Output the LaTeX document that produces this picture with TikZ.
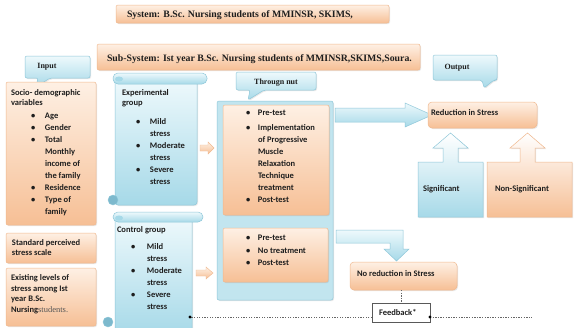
\documentclass[tikz,border=0pt]{standalone}
\usepackage{fontspec}
\setmainfont{Carlito}
\newfontfamily\tnr{Liberation Serif}
\usetikzlibrary{shadows}
\definecolor{txt}{HTML}{1E1E1E}
\definecolor{orL}{HTML}{FEF0E4}
\definecolor{orD}{HTML}{F6BF95}
\definecolor{orB}{HTML}{F0B88E}
\definecolor{blL}{HTML}{EEF9FC}
\definecolor{blD}{HTML}{A6D9E8}
\definecolor{blB}{HTML}{8EC7D9}
\definecolor{blC}{HTML}{7DB9CD}
\definecolor{blM}{HTML}{C2E5EF}
\tikzset{
  shd/.style={drop shadow={opacity=0.18, shadow xshift=1pt, shadow yshift=-1pt}},
  orbox/.style={draw=orB, line width=0.5pt, rounded corners=2pt, top color=orL, bottom color=orD, shd},
  blbox/.style={draw=blB, line width=0.5pt, rounded corners=2pt, top color=blL, bottom color=blD, shd},
  blarrow/.style={draw=blB, line width=0.5pt, top color=blL, bottom color=blD},
  orarrow/.style={draw=orB, line width=0.4pt, top color=orL, bottom color=orD},
  lbl/.style={font=\fontsize{8.5}{12}\selectfont\bfseries, align=left, anchor=base west},
  mlbl/.style={font=\fontsize{8.5}{12}\selectfont\bfseries, align=left, anchor=north west},
  ttl/.style={font=\tnr\bfseries\fontsize{9.8}{12}\selectfont, anchor=base west},
  call/.style={font=\tnr\bfseries\fontsize{8}{10}\selectfont, anchor=base},
  fbline/.style={draw=gray!80!black, line width=0.6pt, dash pattern=on 1.3pt off 1.3pt},
  box/.style={anchor=north west, inner sep=0pt}
}
\begin{document}
\begin{tikzpicture}[x=1pt,y=-1pt, every node/.append style={inner sep=0pt, outer sep=0pt, text=txt}]
\useasboundingbox[fill=white] (0,0) rectangle (577,327);

% titles
\node[orbox, box, minimum width=273pt, minimum height=18pt] (sys) at (116,5) {};
\node[ttl] (systxt) at (127,17.5) {System: B.Sc. Nursing students of MMINSR, SKIMS,};
\node[orbox, box, minimum width=323pt, minimum height=26pt] (sub) at (97,44) {};
\node[ttl] (subtxt) at (107,61) {Sub-System: Ist year B.Sc. Nursing students of MMINSR,SKIMS,Soura.};

% callouts
\path[blarrow, rounded corners=2pt, shd] (25,56) -- (90,56) -- (90,78) -- (50,78) -- (36,87) -- (38,78) -- (25,78) -- cycle;
\node[call] (inlbl) at (47,68.5) {Input};
\path[blarrow, rounded corners=2pt, shd] (433,55) -- (497,55) -- (497,80) -- (494,80) -- (484,88) -- (482,80) -- (433,80) -- cycle;
\node[call] (outlbl) at (457,69) {Output};
\path[blarrow, rounded corners=2pt, shd] (236,72) -- (316,72) -- (316,90) -- (264,90) -- (248,100) -- (250,90) -- (236,90) -- cycle;
\node[call] (thrlbl) at (276,84) {Througn nut};

% left column
\node[orbox, box, minimum width=90pt, minimum height=143pt] (socio) at (6,82) {};
\node[mlbl] (sociotxt) at (11,89.8) {Socio- demographic\\[-2.5pt]variables\\[1.5pt]
\hspace*{20pt}\makebox[14pt][l]{\textbullet}Age\\
\hspace*{20pt}\makebox[14pt][l]{\textbullet}Gender\\
\hspace*{20pt}\makebox[14pt][l]{\textbullet}Total\\
\hspace*{34pt}Monthly\\
\hspace*{34pt}income of\\
\hspace*{34pt}the family\\
\hspace*{20pt}\makebox[14pt][l]{\textbullet}Residence\\
\hspace*{20pt}\makebox[14pt][l]{\textbullet}Type of\\
\hspace*{34pt}family};
\node[orbox, box, minimum width=90pt, minimum height=30pt] (std) at (6,233) {};
\node[mlbl, font=\fontsize{8.5}{10}\selectfont\bfseries] (stdtxt) at (12,239.8) {Standard perceived\\stress scale};
\node[orbox, box, minimum width=90pt, minimum height=58pt] (exist) at (6,268) {};
\node[mlbl, font=\fontsize{8.5}{10.5}\selectfont\bfseries] (existtxt) at (11,274.8) {Existing levels of\\stress among Ist\\year B.Sc.\\Nursing{\tnr\mdseries\color{txt!75}students.}};

% experimental scroll
\path[blbox, rounded corners=3pt] (115,79) rectangle (197,205);
\path[blarrow, rounded corners=5pt] (113,73) rectangle (207,84);
\fill[blD] (119,79) ellipse (4 and 2.5);
\path[draw=blB, fill=blC, line width=0.4pt] (113,200) circle (5);
\node[mlbl] (exptxt) at (122,89.8) {Experimental\\[-2pt]group\\[7pt]
\hspace*{14pt}\makebox[14pt][l]{\textbullet}Mild\\
\hspace*{28pt}stress\\
\hspace*{14pt}\makebox[14pt][l]{\textbullet}Moderate\\
\hspace*{28pt}stress\\
\hspace*{14pt}\makebox[14pt][l]{\textbullet}Severe\\
\hspace*{28pt}stress};

% control scroll
\begin{scope}
\clip (0,0) rectangle (577,327);
\path[blbox, rounded corners=3pt] (115,217) rectangle (192,335);
\path[blarrow, rounded corners=5pt] (113,212) rectangle (203,222);
\fill[blD] (119,218) ellipse (4 and 2.5);
\path[draw=blB, fill=blC, line width=0.4pt] (108,322) circle (5);
\end{scope}
\node[mlbl] (ctltxt) at (117,226.8) {Control group\\[5pt]
\hspace*{14pt}\makebox[16pt][l]{\textbullet}Mild\\
\hspace*{30pt}stress\\
\hspace*{14pt}\makebox[16pt][l]{\textbullet}Moderate\\
\hspace*{30pt}stress\\
\hspace*{14pt}\makebox[16pt][l]{\textbullet}Severe\\
\hspace*{30pt}stress};

% small orange arrows
\path[orarrow] (200,145) -- (208,145) -- (208,142) -- (214,148) -- (208,154) -- (208,151) -- (200,151) -- cycle;
\path[orarrow] (196,270) -- (206,270) -- (206,267) -- (213,273) -- (206,279) -- (206,276) -- (196,276) -- cycle;

% container
\node[draw=blB, fill=blM, line width=0.5pt, rounded corners=2pt, box, minimum width=116pt, minimum height=199pt, shd] (cont) at (217,101) {};
\node[orbox, box, minimum width=106pt, minimum height=110pt] (inner1) at (223,105) {};
\node[mlbl] (in1txt) at (246,110) {\makebox[12pt][l]{\textbullet}Pre-test\\[3pt]
\makebox[12pt][l]{\textbullet}Implementation\\
\hspace*{12pt}of Progressive\\
\hspace*{12pt}Muscle\\
\hspace*{12pt}Relaxation\\
\hspace*{12pt}Technique\\
\hspace*{12pt}treatment\\
\makebox[12pt][l]{\textbullet}Post-test};
\node[orbox, box, minimum width=105pt, minimum height=54pt] (inner2) at (223,228) {};
\node[mlbl, font=\fontsize{8.5}{12.5}\selectfont\bfseries] (in2txt) at (246,235) {\makebox[12pt][l]{\textbullet}Pre-test\\
\makebox[12pt][l]{\textbullet}No treatment\\
\makebox[12pt][l]{\textbullet}Post-test};

% blue block arrows
\path[blarrow] (335,108) -- (405,108) -- (405,103) -- (432,115) -- (405,127) -- (405,122) -- (335,122) -- cycle;
\path[blarrow] (336,230) -- (403,230) -- (403,249) -- (409,249) -- (396.5,261) -- (384,249) -- (390,249) -- (390,243) -- (336,243) -- cycle;

% outputs
\node[orbox, box, rounded corners=4pt, minimum width=109pt, minimum height=26pt] (red) at (428,102) {};
\node[lbl] (redtxt) at (431,115) {Reduction in Stress};
\path[draw=blB, line width=0.5pt, top color=white, middle color=blL, bottom color=blD, shd] (418,217) -- (418,162) -- (443,162) -- (443,148) -- (433,148) -- (450.5,133) -- (468,148) -- (458,148) -- (458,162) -- (483,162) -- (483,217) -- cycle;
\node[lbl] (sigtxt) at (423,191) {Significant};
\path[draw=orB, line width=0.5pt, top color=white, middle color=orL, bottom color=orD, shd] (487,217) -- (487,162) -- (520,162) -- (520,148) -- (510,148) -- (527.5,133) -- (545,148) -- (535,148) -- (535,162) -- (572,162) -- (572,217) -- cycle;
\node[lbl] (nsigtxt) at (495,191) {Non-Significant};
\node[orbox, box, rounded corners=4pt, minimum width=107pt, minimum height=28pt] (nored) at (350,262) {};
\node[lbl] (noredtxt) at (357,276) {No reduction in Stress};

% feedback
\node[draw=gray!70!black, fill=white, line width=0.7pt, box, minimum width=58pt, minimum height=19pt, shd] (fb) at (372,303) {};
\node[lbl] (fbtxt) at (379,315) {Feedback*};
\coordinate (fbl) at (190,317);
\coordinate (fbr) at (532,317);
\draw[fbline] (fb.west |- fbl) -- (fbl);
\draw[fbline] (fb.east |- fbr) -- (fbr);
\draw[fbline] (fb.north |- nored.south) -- (fb.north);
\fill[black] (fbl) circle (1.6);
\fill[black] (fb.east |- fbr) circle (1.6);
\end{tikzpicture}
\end{document}
